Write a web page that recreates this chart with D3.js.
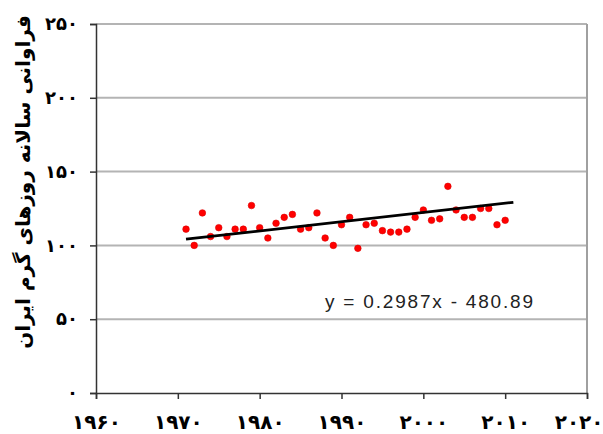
<!DOCTYPE html>
<html>
<head>
<meta charset="utf-8">
<script src="https://cdn.jsdelivr.net/npm/d3@7"></script>
<style>
  body { margin: 0; background: #fff; }
  svg { display: block; }
</style>
</head>
<body>
<script>
const width = 603;
const height = 434;

// yearly count of hot days, 1971-2010
const years = d3.range(1971, 2011);
const counts = [
  111, 100, 122, 106, 112, 106, 111, 111, 127, 112,
  105, 115, 119, 121, 111, 112, 122, 105, 100, 114,
  119, 98, 114, 115, 110, 109, 109, 111, 119, 124,
  117, 118, 140, 124, 119, 119, 125, 125, 114, 117
];

// trend line end points as drawn
const trendYears = [1971, 2011];
const trendValues = [104.2, 129.2];
const equation = "y = 0.2987x - 480.89";

const xTicks = [1960, 1970, 1980, 1990, 2000, 2010, 2020];
const yTicks = [0, 50, 100, 150, 200, 250];
const yTitle = "فراوانی سالانه روزهای گرم ایران";

const faDigits = "۰۱۲۳۴۵۶۷۸۹";
const toFa = n => String(n).replace(/\d/g, d => faDigits[d]);

const margin = { top: 24, right: 16, bottom: 41, left: 96 };

const x = d3.scaleLinear().domain([1960, 2020]).range([margin.left, width - margin.right]);
const y = d3.scaleLinear().domain([0, 250]).range([height - margin.bottom, margin.top]);

const svg = d3.select("body").append("svg")
  .attr("width", width)
  .attr("height", height);

// gridlines
svg.append("g")
  .selectAll("line")
  .data(yTicks.filter(d => d > 0))
  .join("line")
  .attr("x1", x(1960)).attr("x2", x(2020))
  .attr("y1", d => y(d)).attr("y2", d => y(d))
  .attr("stroke", "#b4b4b4")
  .attr("stroke-width", 2);

// right border
svg.append("line")
  .attr("x1", x(2020)).attr("x2", x(2020))
  .attr("y1", y(250)).attr("y2", y(0))
  .attr("stroke", "#a0a0a0")
  .attr("stroke-width", 2);

const axisFont = "'DejaVu Sans', sans-serif";

const yAxis = svg.append("g")
  .attr("transform", `translate(${x(1960)},0)`)
  .call(d3.axisLeft(y).tickValues(yTicks).tickSize(6).tickPadding(12).tickFormat(toFa));
yAxis.selectAll("text")
  .attr("font-family", axisFont).attr("font-weight", "bold").attr("font-size", 18).attr("fill", "#000");

const xAxis = svg.append("g")
  .attr("transform", `translate(0,${y(0)})`)
  .call(d3.axisBottom(x).tickValues(xTicks).tickSize(6).tickPadding(16).tickFormat(toFa));
xAxis.selectAll("text")
  .attr("font-family", axisFont).attr("font-weight", "bold").attr("font-size", 20).attr("fill", "#000");
// last label sits flush with the right edge, as in the original
xAxis.selectAll(".tick text").filter(d => d === 2020)
  .attr("text-anchor", "end").attr("dx", 16);

svg.selectAll(".domain, .tick line").attr("stroke", "#333").attr("stroke-width", 1.5);

// points
svg.append("g")
  .selectAll("circle")
  .data(years)
  .join("circle")
  .attr("cx", d => x(d))
  .attr("cy", (d, i) => y(counts[i]))
  .attr("r", 3.3)
  .attr("fill", "#f00")
  .attr("stroke", "#d00")
  .attr("stroke-width", 0.6);

// trend line
svg.append("line")
  .attr("x1", x(trendYears[0])).attr("y1", y(trendValues[0]))
  .attr("x2", x(trendYears[1])).attr("y2", y(trendValues[1]))
  .attr("stroke", "#000")
  .attr("stroke-width", 2.8);

svg.append("text")
  .attr("x", 325)
  .attr("y", 308)
  .attr("font-family", "'Liberation Sans', Arial, sans-serif")
  .attr("font-size", 19)
  .attr("textLength", 208)
  .attr("lengthAdjust", "spacing")
  .attr("fill", "#222")
  .text(equation);

svg.append("text")
  .attr("transform", `translate(30,182) rotate(-90)`)
  .attr("text-anchor", "middle")
  .attr("font-family", axisFont)
  .attr("font-weight", "bold")
  .attr("font-size", 20)
  .attr("direction", "rtl")
  .text(yTitle);
</script>
</body>
</html>
